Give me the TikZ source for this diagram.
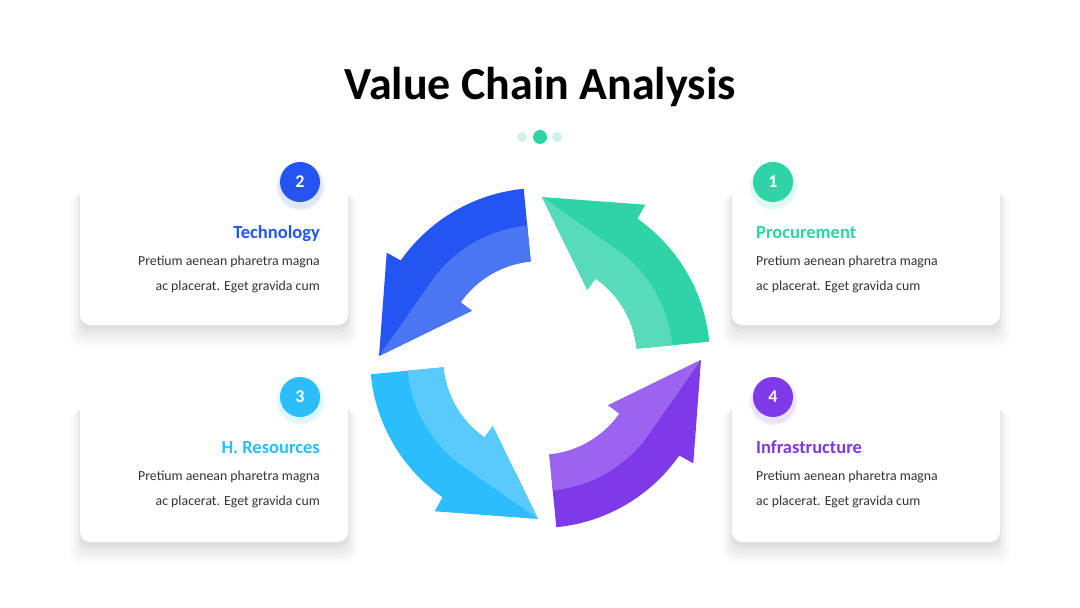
\documentclass[tikz,border=0pt]{standalone}
\usepackage{fontspec}
\setmainfont{Carlito}
\usetikzlibrary{shadows}
\definecolor{grn}{HTML}{2ED3A6}
\definecolor{grnlt}{HTML}{57DBB8}
\definecolor{blu}{HTML}{2455F2}
\definecolor{blult}{HTML}{4B76F3}
\definecolor{cyn}{HTML}{2BBDFD}
\definecolor{cynlt}{HTML}{59CAFC}
\definecolor{prp}{HTML}{7E39E8}
\definecolor{prplt}{HTML}{9A63F0}
\definecolor{dotlt}{HTML}{CDF3E8}
\definecolor{bodygray}{HTML}{333333}

\begin{document}
\begin{tikzpicture}[x=1pt,y=1pt,
  card/.style={fill=white,rounded corners=10pt,minimum width=268pt,inner sep=0pt,
    general shadow={fill=black,opacity=.012,shadow yshift=-16pt,shadow scale=1.07},
    general shadow={fill=black,opacity=.016,shadow yshift=-14pt,shadow scale=1.055},
    general shadow={fill=black,opacity=.02,shadow yshift=-12pt,shadow scale=1.04},
    general shadow={fill=black,opacity=.024,shadow yshift=-10pt,shadow scale=1.025},
    general shadow={fill=black,opacity=.028,shadow yshift=-7pt,shadow scale=1.01},
    general shadow={fill=black,opacity=.03,shadow yshift=-4pt,shadow scale=1.0}},
  badge/.style={circle,minimum size=40pt,inner sep=0pt,text=white,
    font=\bfseries\fontsize{18}{18}\selectfont},
  head/.style={inner sep=0pt,font=\bfseries\fontsize{18.5}{20}\selectfont},
  body/.style={inner sep=0pt,text=bodygray,font=\fontsize{13.8}{25}\selectfont},
  dot/.style={circle,inner sep=0pt},
  pics/cyclearrow/.style 2 args={code={
    \fill[#1] (5.5:170) arc[start angle=5.5,end angle=55,radius=170]
      -- (55.5:186) -- (89.3:161) -- (55.3:83) -- (55:97)
      arc[start angle=55,end angle=5.5,radius=97] -- cycle;
    \fill[#2] (5.5:133) arc[start angle=5.5,end angle=52,radius=133]
      -- (89.3:161) -- (55.3:83) -- (55:97)
      arc[start angle=55,end angle=5.5,radius=97] -- cycle;}}]
\useasboundingbox[fill=white] (0,0) rectangle (1080,-608);
\node[font=\bfseries\fontsize{46}{46}\selectfont,anchor=base] (title) at (540,-99)
  {Value Chain Analysis};
\node[dot,fill=dotlt,minimum size=10pt] (dotl) at (522,-137) {};
\node[dot,fill=grn,minimum size=14pt] (dotm) at (540,-137) {};
\node[dot,fill=dotlt,minimum size=10pt] (dotr) at (557,-137) {};
% cards
\node[card,minimum height=142pt] (tech) at (214,-254) {};
\node[card,minimum height=142pt] (proc) at (866,-254) {};
\node[card,minimum height=144pt] (hres) at (214,-470) {};
\node[card,minimum height=144pt] (infra) at (866,-470) {};
% badges
\node[badge,fill=blu,circular glow={fill=blu,opacity=0.15,shadow yshift=-3pt}] (b2) at (300,-182) {2};
\node[badge,fill=grn,circular glow={fill=grn,opacity=0.15,shadow yshift=-3pt}] (b1) at (773,-182) {1};
\node[badge,fill=cyn,circular glow={fill=cyn,opacity=0.15,shadow yshift=-3pt}] (b3) at (300,-397) {3};
\node[badge,fill=prp,circular glow={fill=prp,opacity=0.15,shadow yshift=-3pt}] (b4) at (773,-397) {4};
% texts
\node[head,text=blu,anchor=base east] (techhead) at (320,-238) {Technology};
\node[body,align=right,anchor=north east] (techbody) at (320,-256)
  {Pretium aenean pharetra magna\\ac placerat. Eget gravida cum};
\node[head,text=grn,anchor=base west] (prochead) at (756,-238) {Procurement};
\node[body,align=left,anchor=north west] (procbody) at (756,-256)
  {Pretium aenean pharetra magna\\ac placerat. Eget gravida cum};
\node[head,text=cyn,anchor=base east] (hreshead) at (320,-453) {H. Resources};
\node[body,align=right,anchor=north east] (hresbody) at (320,-471)
  {Pretium aenean pharetra magna\\ac placerat. Eget gravida cum};
\node[head,text=prp,anchor=base west] (infrahead) at (756,-453) {Infrastructure};
\node[body,align=left,anchor=north west] (infrabody) at (756,-471)
  {Pretium aenean pharetra magna\\ac placerat. Eget gravida cum};
% cycle of arrows
\pic at (540,-358) {cyclearrow={grn}{grnlt}};
\pic[rotate=90] at (540,-358) {cyclearrow={blu}{blult}};
\pic[rotate=180] at (540,-358) {cyclearrow={cyn}{cynlt}};
\pic[rotate=270] at (540,-358) {cyclearrow={prp}{prplt}};
\end{tikzpicture}
\end{document}
